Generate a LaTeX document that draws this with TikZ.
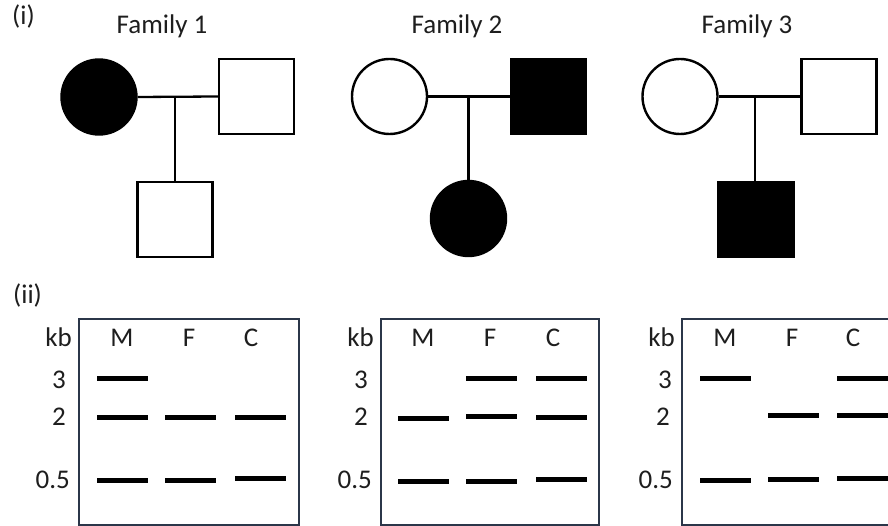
\documentclass[tikz,border=0pt]{standalone}
\usepackage{fontspec}
\setmainfont{Carlito}
\definecolor{txt}{HTML}{1E1E1E}
\definecolor{gelframe}{HTML}{2B3649}
\begin{document}
\begin{tikzpicture}[x=1pt,y=-1pt,
  lbl/.style={inner sep=0pt,text=txt,font=\fontsize{27}{32}\selectfont},
  fem/.style={circle,draw=black,line width=2.4pt,minimum size=75pt,inner sep=0pt},
  mal/.style={rectangle,draw=black,line width=2.4pt,minimum size=75pt,inner sep=0pt},
  aff/.style={fill=black},
  unaff/.style={fill=white},
  link/.style={line width=2.3pt,draw=black},
  gelbox/.style={draw=gelframe,line width=2pt},
  band/.style={line width=5pt,draw=black}]
\clip (0,0) rectangle (888,526);
\fill[white] (0,0) rectangle (888,526);

% (i) pedigrees
\node[lbl,anchor=base west] (tI) at (12,25) {(i)};
\node[lbl,anchor=base] (f1t) at (162,34) {Family 1};
\node[lbl,anchor=base] (f2t) at (457,34) {Family 2};
\node[lbl,anchor=base] (f3t) at (747,34) {Family 3};

% Family 1
\node[fem,aff] (m1) at (99,97) {};
\node[mal,unaff] (d1) at (256.5,96.5) {};
\node[mal,unaff] (c1) at (175,219.5) {};
\coordinate (j1) at (175,97);
\draw[link] (m1.east) -- (d1.west);
\draw[link] (j1) -- (c1.north);

% Family 2
\node[fem,unaff] (m2) at (389.5,96.5) {};
\node[mal,aff] (d2) at (548.5,96.5) {};
\node[fem,aff] (c2) at (468.5,218.5) {};
\coordinate (j2) at (468.5,97);
\draw[link] (m2.east) -- (d2.west);
\draw[link] (j2) -- (c2.north);

% Family 3
\node[fem,unaff] (m3) at (680,96.5) {};
\node[mal,unaff] (d3) at (839,96.5) {};
\node[mal,aff] (c3) at (756,219.5) {};
\coordinate (j3) at (755,97);
\draw[link] (m3.east) -- (d3.west);
\draw[link] (j3) -- (j3 |- c3.north);

% (ii) gels
\node[lbl,anchor=base west] (tII) at (13,304) {(ii)};

% Gel 1
\begin{scope}[shift={(79,319)}]
\draw[gelbox] (0,0) rectangle (220,206);
\node[lbl,anchor=base east] (g1kb) at (-7,27) {kb};
\node[lbl,anchor=base] (g1M) at (43,27) {M};
\node[lbl,anchor=base] (g1F) at (110,27) {F};
\node[lbl,anchor=base] (g1C) at (172,27) {C};
\node[lbl,anchor=base east] (g1a) at (-13,69) {3};
\node[lbl,anchor=base east] (g1b) at (-13,106) {2};
\node[lbl,anchor=base east] (g1c) at (-9,169) {0.5};
\draw[band] (18,59) -- (69,59);
\draw[band] (18,98) -- (69,98);
\draw[band] (86,98) -- (137,98);
\draw[band] (156,98) -- (207,98);
\draw[band] (18,161) -- (69,161);
\draw[band] (86,161) -- (137,161);
\draw[band] (156,159) -- (207,159);
\end{scope}

% Gel 2
\begin{scope}[shift={(381,319)}]
\draw[gelbox] (0,0) rectangle (218,206);
\node[lbl,anchor=base east] (g2kb) at (-7,27) {kb};
\node[lbl,anchor=base] (g2M) at (42,27) {M};
\node[lbl,anchor=base] (g2F) at (109,27) {F};
\node[lbl,anchor=base] (g2C) at (172,27) {C};
\node[lbl,anchor=base east] (g2a) at (-13,69) {3};
\node[lbl,anchor=base east] (g2b) at (-13,106) {2};
\node[lbl,anchor=base east] (g2c) at (-9,169) {0.5};
\draw[band] (85,59) -- (136,59);
\draw[band] (155,59) -- (206,59);
\draw[band] (17,99) -- (68,99);
\draw[band] (85,97) -- (136,97);
\draw[band] (155,98) -- (206,98);
\draw[band] (17,162) -- (68,162);
\draw[band] (85,162) -- (136,162);
\draw[band] (155,160) -- (206,160);
\end{scope}

% Gel 3
\begin{scope}[shift={(682,319)}]
\draw[gelbox] (0,0) rectangle (220,206);
\node[lbl,anchor=base east] (g3kb) at (-7,27) {kb};
\node[lbl,anchor=base] (g3M) at (43,27) {M};
\node[lbl,anchor=base] (g3F) at (110,27) {F};
\node[lbl,anchor=base] (g3C) at (171,27) {C};
\node[lbl,anchor=base east] (g3a) at (-10,69) {3};
\node[lbl,anchor=base east] (g3b) at (-12,106) {2};
\node[lbl,anchor=base east] (g3c) at (-9,169) {0.5};
\draw[band] (18,59) -- (69,59);
\draw[band] (155,59) -- (210,59);
\draw[band] (86,96) -- (137,96);
\draw[band] (155,96) -- (210,96);
\draw[band] (18,161) -- (69,161);
\draw[band] (86,160) -- (137,160);
\draw[band] (155,159) -- (210,159);
\end{scope}
\end{tikzpicture}
\end{document}
